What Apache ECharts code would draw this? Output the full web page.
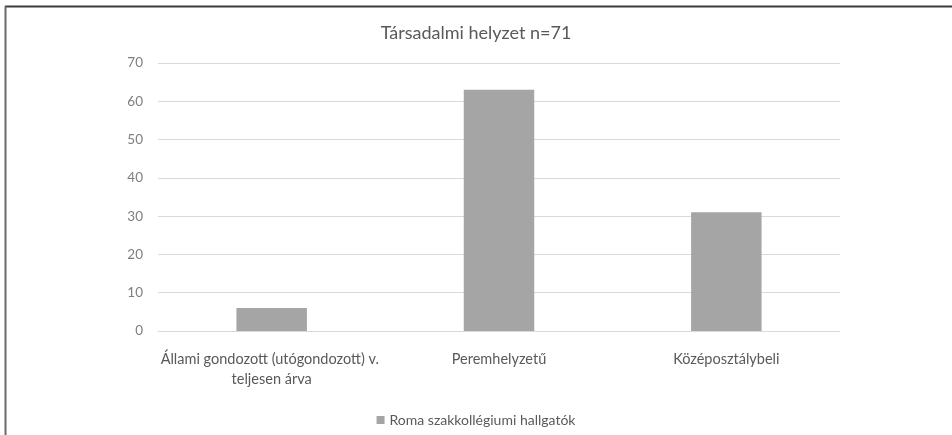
<!DOCTYPE html>
<html>
<head>
<meta charset="utf-8">
<script src="https://cdn.jsdelivr.net/npm/echarts@6/dist/echarts.min.js"></script>
<style>
html,body{margin:0;padding:0;background:#fff;}
#chart{width:952px;height:435px;}
</style>
</head>
<body>
<div id="chart"></div>
<script>
const titleText = 'Társadalmi helyzet n=71';
const categories = ['Állami gondozott (utógondozott) v. teljesen árva', 'Peremhelyzetű', 'Középosztálybeli'];
const seriesName = 'Roma szakkollégiumi hallgatók';
const values = [6, 63, 31];
const yTicks = [0, 10, 20, 30, 40, 50, 60, 70];

const font = 'Lato, "Open Sans", sans-serif';
const chart = echarts.init(document.getElementById('chart'), null, {renderer: 'canvas'});
chart.setOption({
  animation: false,
  backgroundColor: '#fff',
  textStyle: {fontFamily: font},
  title: {
    text: titleText, left: 'center', top: 19,
    textStyle: {fontFamily: font, fontSize: 18, fontWeight: 'normal', color: '#595959'}
  },
  legend: {
    data: [seriesName], bottom: 3, left: 'center',
    icon: 'rect', itemWidth: 8, itemHeight: 8, itemGap: 5,
    textStyle: {fontFamily: font, fontSize: 14, color: '#595959'}
  },
  grid: {left: 158, right: 112, top: 63, bottom: 104, containLabel: false},
  xAxis: {
    type: 'category', data: categories,
    axisLine: {lineStyle: {color: '#d9d9d9'}},
    axisTick: {show: false},
    axisLabel: {
      fontFamily: font, fontSize: 14.5, color: '#595959', margin: 18,
      width: 245, overflow: 'break', lineHeight: 20, interval: 0
    }
  },
  yAxis: {
    type: 'value', min: yTicks[0], max: yTicks[yTicks.length - 1], interval: 10,
    axisLine: {show: false}, axisTick: {show: false},
    splitLine: {lineStyle: {color: '#d9d9d9'}},
    axisLabel: {fontFamily: font, fontSize: 13.5, color: '#7f7f7f', margin: 15}
  },
  series: [{
    name: seriesName, type: 'bar', data: values, barWidth: '31%',
    itemStyle: {color: '#a5a5a5'}
  }],
  graphic: [
    {type: 'line', shape: {x1: 5, y1: 6.5, x2: 952, y2: 6.5}, style: {stroke: '#3a3a3a', lineWidth: 2}, silent: true},
    {type: 'line', shape: {x1: 5.5, y1: 6, x2: 5.5, y2: 435}, style: {stroke: '#6a6a6a', lineWidth: 2}, silent: true}
  ]
});
</script>
</body>
</html>
